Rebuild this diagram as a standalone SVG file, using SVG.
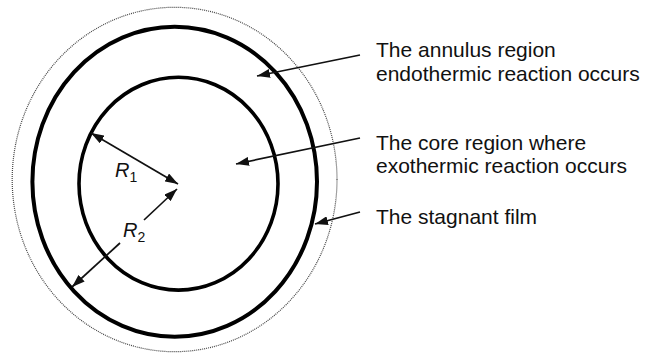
<svg xmlns="http://www.w3.org/2000/svg" width="655" height="356" viewBox="0 0 655 356">
  <style>
    .lbl { font-family: "Liberation Sans", Arial, sans-serif; font-size: 21px; fill: #111; }
    .sym { font-family: "Liberation Sans", Arial, sans-serif; font-size: 20px; font-style: italic; fill: #111; }
    .sub { font-family: "Liberation Sans", Arial, sans-serif; font-size: 14px; fill: #111; }
    .conn { stroke: #111; stroke-width: 1.7; fill: none; }
  </style>
  <defs>
    <marker id="ah" viewBox="0 0 13 9" refX="13" refY="4.5" markerWidth="13" markerHeight="9" markerUnits="userSpaceOnUse" orient="auto-start-reverse">
      <path d="M0,0 L13,4.5 L0,9 z" fill="#111"/>
    </marker>
  </defs>
  <rect width="655" height="356" fill="#fff"/>
  <g id="film">
    <ellipse cx="174.6" cy="179.5" rx="162.4" ry="172.2" fill="none" stroke="#444" stroke-width="1.2" stroke-dasharray="1 1"/>
  </g>
  <g id="annulus">
    <ellipse cx="174.7" cy="181.7" rx="142.3" ry="155" fill="none" stroke="#000" stroke-width="4"/>
  </g>
  <g id="core">
    <ellipse cx="178.5" cy="183.7" rx="99.5" ry="106.4" fill="none" stroke="#000" stroke-width="3.6"/>
  </g>
  <g id="connectors">
    <line class="conn" x1="91" y1="133" x2="178" y2="184" marker-start="url(#ah)" marker-end="url(#ah)"/>
    <line class="conn" x1="144" y1="220" x2="177" y2="189" marker-end="url(#ah)"/>
    <line class="conn" x1="120" y1="243" x2="72" y2="287" marker-end="url(#ah)"/>
    <line class="conn" x1="360" y1="55" x2="257" y2="76" marker-end="url(#ah)"/>
    <line class="conn" x1="360" y1="138" x2="236" y2="164" marker-end="url(#ah)"/>
    <line class="conn" x1="360" y1="212" x2="315" y2="224" marker-end="url(#ah)"/>
  </g>
  <g id="r1-label">
    <text class="sym" x="115" y="177">R</text>
    <text class="sub" x="129.5" y="182">1</text>
  </g>
  <g id="r2-label">
    <text class="sym" x="123" y="236.5">R</text>
    <text class="sub" x="137.5" y="241.5">2</text>
  </g>
  <g id="annulus-label">
    <text class="lbl" x="376" y="57">The annulus region</text>
    <text class="lbl" x="376" y="81">endothermic reaction occurs</text>
  </g>
  <g id="core-label">
    <text class="lbl" x="376" y="150">The core region where</text>
    <text class="lbl" x="376" y="173">exothermic reaction occurs</text>
  </g>
  <g id="film-label">
    <text class="lbl" x="376" y="224">The stagnant film</text>
  </g>
</svg>
